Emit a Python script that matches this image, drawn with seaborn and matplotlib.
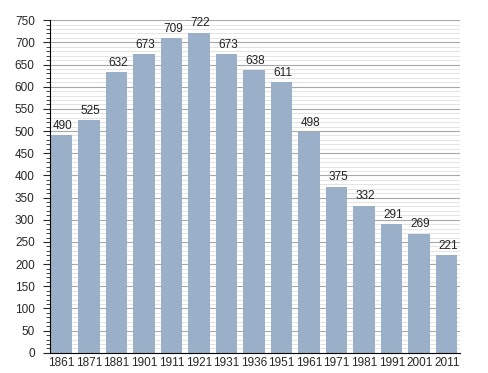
import numpy as np
import pandas as pd
import matplotlib.pyplot as plt
import seaborn as sns
from matplotlib.ticker import MultipleLocator

years = ['1861', '1871', '1881', '1901', '1911', '1921', '1931', '1936',
         '1951', '1961', '1971', '1981', '1991', '2001', '2011']
population = [490, 525, 632, 673, 709, 722, 673, 638, 611, 498, 375, 332, 291, 269, 221]

df = pd.DataFrame({'Année': years, 'Population': population})

sns.set_style('white')
plt.rcParams['font.family'] = ['Liberation Sans', 'DejaVu Sans']

fig = plt.figure(figsize=(4.88, 3.73), dpi=100)
ax = fig.add_axes([0.1025, 0.054, 0.84, 0.892])

ax.yaxis.set_major_locator(MultipleLocator(50))
ax.yaxis.set_minor_locator(MultipleLocator(10))
ax.grid(axis='y', which='minor', color='#e4e4e4', linewidth=0.7)
ax.grid(axis='y', which='major', color='#a8a8a8', linewidth=0.8)
ax.set_axisbelow(True)

sns.barplot(data=df, x='Année', y='Population', color='#9ab0c9', saturation=1,
            width=0.78, linewidth=0, ax=ax)

for i, v in enumerate(population):
    ax.text(i + 0.05, v + 7, str(v), ha='center', va='bottom', fontsize=8.5, color='#222222')

ax.set_ylim(0, 750)
ax.set_xlim(-0.42, len(years) - 0.52)
ax.set_xlabel('')
ax.set_ylabel('')
for s in ['top', 'right']:
    ax.spines[s].set_visible(False)
ax.spines['left'].set_color('black')
ax.spines['bottom'].set_color('black')
ax.tick_params(axis='y', which='major', length=5, width=0.8, labelsize=8.5, left=True, pad=6)
ax.tick_params(axis='y', which='minor', length=3, width=0.6, left=True)
ax.tick_params(axis='x', length=0, labelsize=8.5, pad=3)

fig.savefig('out.png', dpi=100)
